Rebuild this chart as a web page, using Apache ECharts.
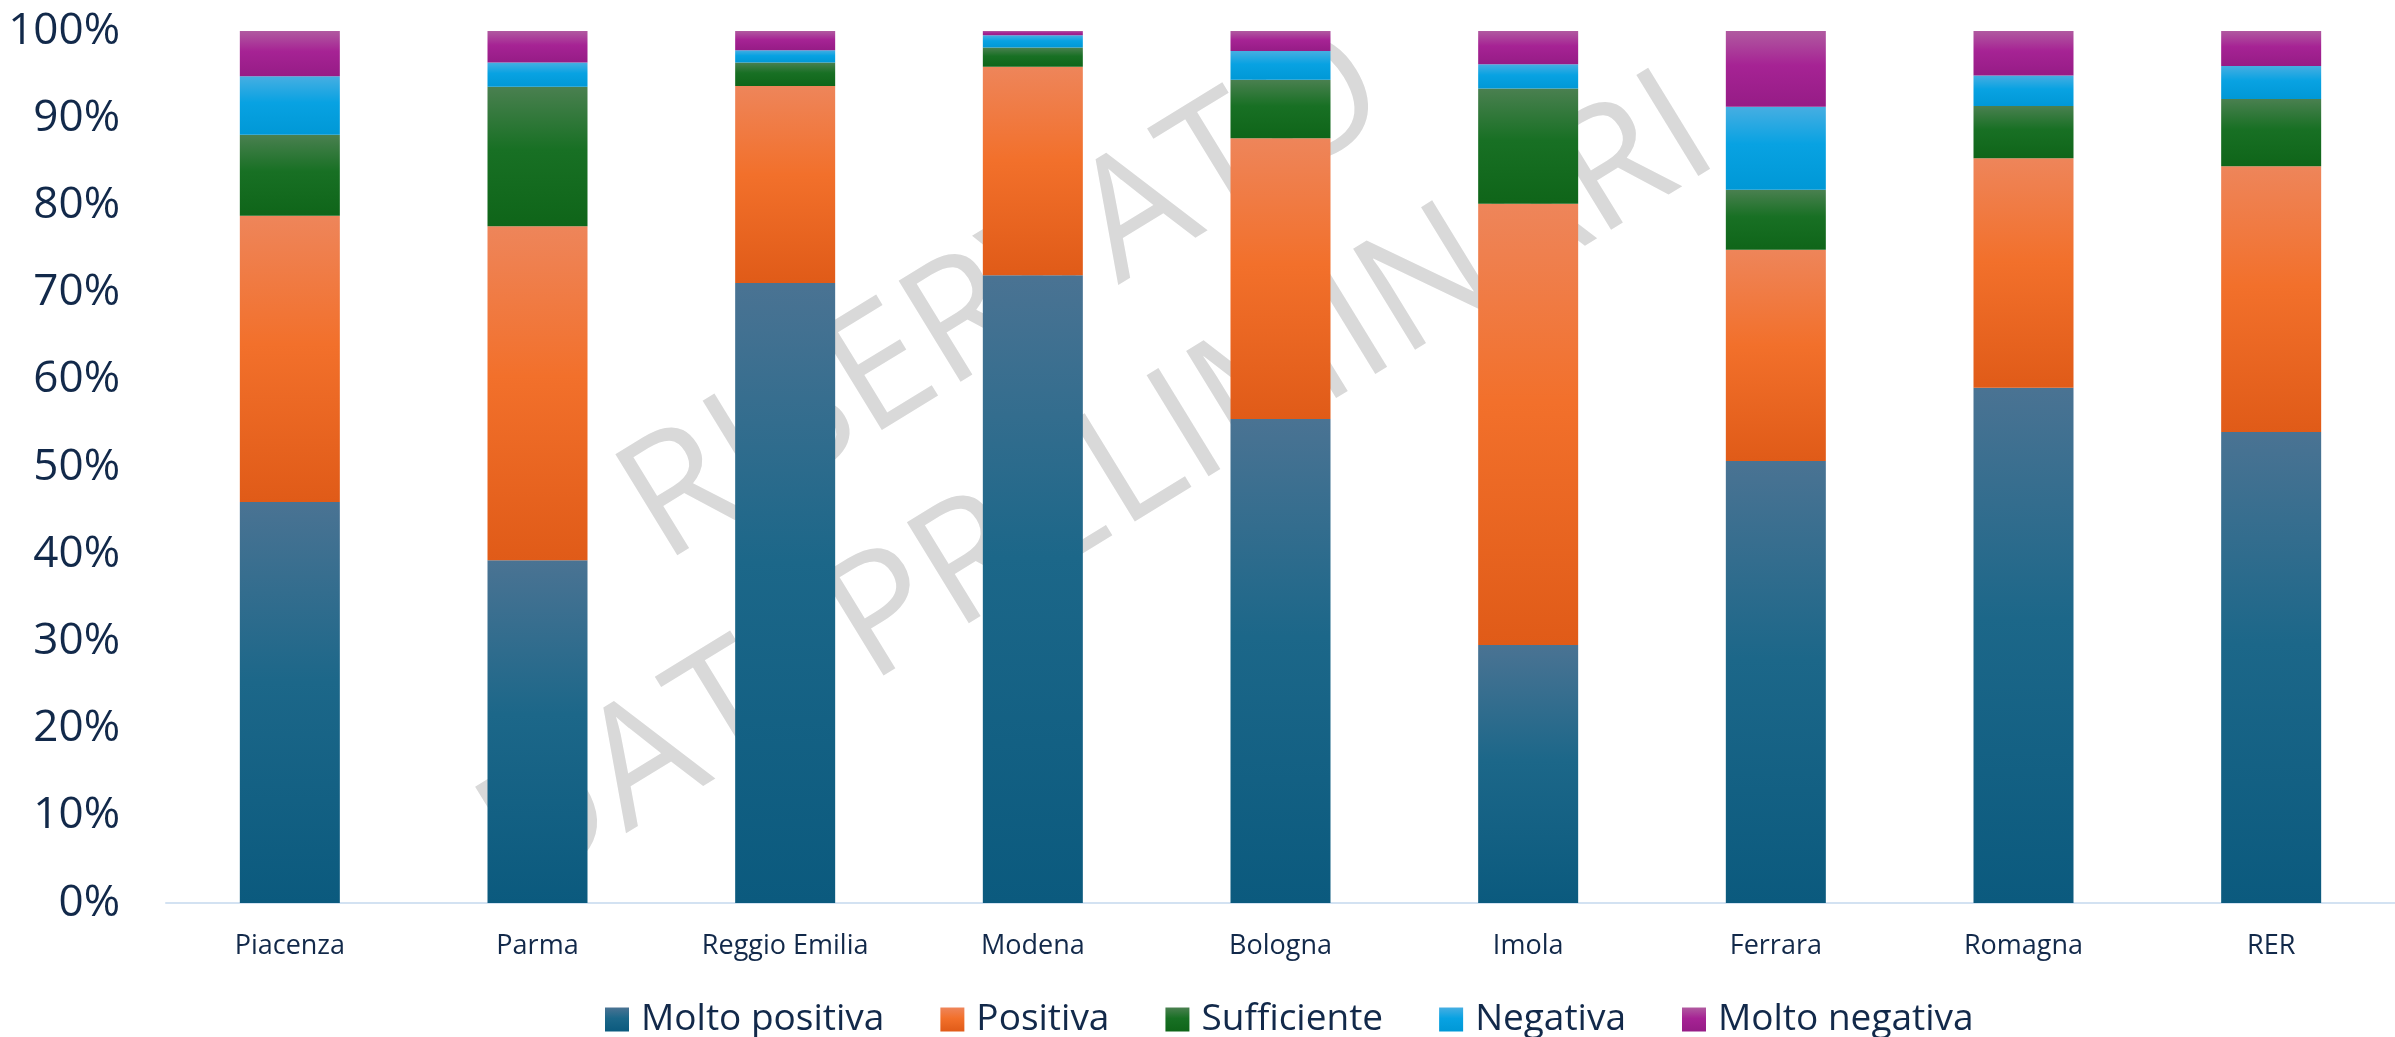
<!DOCTYPE html>
<html>
<head>
<meta charset="utf-8">
<title>Valutazione per area</title>
<script src="https://cdn.jsdelivr.net/npm/echarts@6/dist/echarts.min.js"></script>
<style>
  html, body { margin: 0; padding: 0; background: #fff; }
  #chart { width: 2395px; height: 1037px; }
</style>
</head>
<body>
<div id="chart"></div>
<script>
// categorie (aree)
var categories = ['Piacenza', 'Parma', 'Reggio Emilia', 'Modena', 'Bologna', 'Imola', 'Ferrara', 'Romagna', 'RER'];

// percentuali per giudizio
var moltoPositiva = [46.0, 39.3, 71.1, 72.0, 55.5, 29.6, 50.7, 59.1, 54.0];
var positiva      = [32.8, 38.3, 22.6, 23.9, 32.2, 50.6, 24.2, 26.3, 30.5];
var sufficiente   = [9.3, 16.0, 2.7, 2.2, 6.7, 13.2, 6.9, 6.0, 7.7];
var negativa      = [6.7, 2.8, 1.4, 1.4, 3.3, 2.8, 9.5, 3.5, 3.8];
var moltoNegativa = [5.2, 3.6, 2.2, 0.5, 2.3, 3.8, 8.7, 5.1, 4.0];

var seriesNames = ['Molto positiva', 'Positiva', 'Sufficiente', 'Negativa', 'Molto negativa'];

var textColor = '#12294a';

// gradiente verticale stile Excel: chiaro in alto, scuro in basso
function grad(top, mid, bottom) {
    return new echarts.graphic.LinearGradient(0, 0, 0, 1, [
        {offset: 0, color: top},
        {offset: 0.45, color: mid},
        {offset: 1, color: bottom}
    ]);
}

var colors = [
    grad('#4a7393', '#1c6789', '#0b5a7e'),
    grad('#ee855a', '#f2702b', '#e05b18'),
    grad('#4a8050', '#187024', '#0f6519'),
    grad('#46aee2', '#08a2e2', '#0098d6'),
    grad('#b05aa0', '#a62394', '#961c86')
];

function barSeries(name, data, color) {
    return {
        name: name,
        type: 'bar',
        stack: 'tot',
        barWidth: 100,
        data: data,
        itemStyle: {color: color},
        emphasis: {disabled: true}
    };
}

// testo della filigrana, ruotato e dietro le barre
function watermark(text, x, y) {
    return {
        type: 'text',
        z: -10,
        x: x,
        y: y,
        rotation: 31.5 * Math.PI / 180,
        style: {
            text: text,
            font: '166px "Open Sans"',
            fill: '#d9d9d9',
            textAlign: 'center',
            textVerticalAlign: 'middle'
        }
    };
}

var chart = echarts.init(document.getElementById('chart'), null, {renderer: 'canvas'});

var option = {
    animation: false,
    backgroundColor: '#ffffff',
    textStyle: {fontFamily: 'Open Sans'},
    grid: {
        left: 166,
        top: 31,
        width: 2241,
        height: 872
    },
    legend: {
        data: seriesNames,
        top: 996,
        left: 600,
        itemWidth: 24,
        itemHeight: 24,
        itemGap: 56,
        icon: 'rect',
        textStyle: {
            fontFamily: 'Open Sans',
            fontSize: 37,
            color: textColor,
            padding: [0, 0, 0, 7]
        }
    },
    graphic: [
        watermark('RISERVATO', 1005, 299),
        watermark('DATI PRELIMINARI', 1099, 488)
    ],
    xAxis: {
        type: 'category',
        data: categories,
        axisTick: {show: false},
        axisLine: {lineStyle: {color: '#d3e2f2', width: 2}},
        axisLabel: {
            color: textColor,
            fontSize: 27,
            margin: 30
        }
    },
    yAxis: {
        type: 'value',
        min: 0,
        max: 100,
        interval: 10,
        splitLine: {show: false},
        axisLine: {show: false},
        axisTick: {show: false},
        axisLabel: {
            formatter: '{value}%',
            color: textColor,
            fontSize: 44,
            margin: 46
        }
    },
    series: [
        barSeries(seriesNames[0], moltoPositiva, colors[0]),
        barSeries(seriesNames[1], positiva, colors[1]),
        barSeries(seriesNames[2], sufficiente, colors[2]),
        barSeries(seriesNames[3], negativa, colors[3]),
        barSeries(seriesNames[4], moltoNegativa, colors[4])
    ]
};

chart.setOption(option);
</script>
</body>
</html>
